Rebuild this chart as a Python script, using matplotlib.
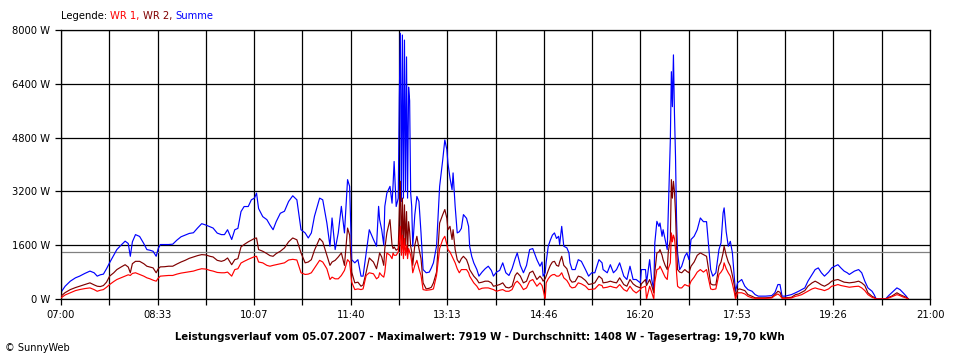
import matplotlib
matplotlib.use('Agg')
import matplotlib.pyplot as plt
import numpy as np

# minutes after 07:00
minutes = [0, 4, 9, 14, 18, 23, 28, 32, 35, 38, 41, 44, 47, 51, 54, 58, 62, 65, 67, 69,
           72, 76, 80, 83, 86, 89, 92, 94, 96, 100, 104, 108, 112, 116, 120, 124, 128, 132, 136, 140,
           144, 147, 151, 155, 158, 161, 165, 168, 171, 174, 177, 181, 184, 187, 189, 191, 195, 199, 202, 205,
           208, 212, 216, 220, 224, 228, 232, 236, 239, 242, 245, 250, 253, 257, 260, 262, 265, 268, 271, 274,
           277, 279, 281, 284, 287, 290, 292, 295, 298, 302, 305, 307, 308, 310, 312, 313, 315, 318, 320, 321,
           322, 324, 326, 327, 328, 329, 330, 331, 332, 333, 334, 335, 336, 337, 338, 339, 340, 342, 344, 346,
           348, 350, 353, 356, 358, 360, 363, 366, 369, 371, 373, 374, 376, 378, 379, 381, 383, 385, 387, 389,
           392, 394, 395, 397, 399, 402, 404, 407, 410, 413, 416, 418, 421, 424, 427, 430, 433, 436, 439, 441,
           444, 447, 450, 453, 456, 460, 463, 465, 466, 468, 469, 471, 473, 475, 477, 479, 481, 482, 484, 486,
           489, 491, 492, 494, 497, 500, 503, 507, 510, 513, 516, 520, 523, 524, 528, 531, 534, 537, 540, 544,
           547, 550, 553, 556, 560, 561, 565, 566, 569, 571, 573, 574, 576, 578, 579, 581, 582, 584, 586, 587,
           589, 590, 591, 592, 593, 594, 595, 596, 598, 600, 603, 605, 607, 609, 612, 615, 618, 621, 624, 626,
           628, 630, 633, 636, 638, 640, 641, 643, 645, 647, 649, 651, 652, 654, 656, 658, 661, 664, 668, 671,
           674, 681, 687, 690, 693, 695, 697, 700, 706, 710, 713, 716, 719, 722, 726, 729, 732, 735, 738, 742,
           745, 748, 751, 754, 757, 760, 762, 767, 771, 774, 777, 780, 784, 786, 788, 797, 800, 803, 808, 811,
           814, 817, 819]

summe = [200, 380, 530, 630, 680, 760, 830, 780, 680, 720, 740, 900, 1080, 1300, 1470, 1600, 1720, 1650, 1270, 1700,
         1915, 1860, 1650, 1470, 1450, 1420, 1270, 1500, 1620, 1620, 1620, 1630, 1750, 1850, 1900, 1950, 1970, 2110, 2240, 2200,
         2150, 2110, 1960, 1915, 1915, 2060, 1770, 2060, 2100, 2600, 2750, 2750, 2950, 3000, 3150, 2690, 2450, 2360, 2200, 2060,
         2300, 2550, 2610, 2900, 3070, 2950, 2060, 1965, 1815, 1965, 2460, 3000, 2950, 2260, 1570, 2410, 1470, 1965, 2755, 1965,
         3550, 3350, 1170, 1075, 1170, 680, 680, 1370, 2060, 1770, 1570, 2755, 2360, 2060, 1600, 2755, 3150, 3350, 2850, 3400,
         4090, 2750, 3000, 6000, 7900, 2900, 7850, 3000, 7700, 3200, 7200, 3000, 6300, 5900, 3150, 2755, 1570, 2500, 3050, 2900,
         1965, 875, 780, 800, 925, 1075, 1570, 3350, 4140, 4730, 4440, 4040, 3600, 3250, 3750, 2755, 1965, 2000, 2100, 2510,
         2400, 2160, 1570, 1270, 1075, 875, 680, 800, 900, 975, 850, 680, 800, 850, 1075, 780, 700, 900, 1200, 1370,
         1000, 780, 1000, 1470, 1500, 1170, 975, 1100, 680, 780, 1100, 1570, 1750, 1900, 1965, 1800, 1865, 1620, 2160, 1570,
         1520, 1370, 1075, 875, 875, 1170, 1120, 875, 680, 780, 780, 1170, 1075, 875, 780, 1020, 780, 875, 1075, 680,
         580, 975, 580, 580, 480, 875, 875, 480, 1170, 580, 280, 1670, 2310, 2160, 2260, 1865, 2060, 1770, 1470, 2560,
         4730, 6760, 5720, 7260, 5500, 4240, 2360, 1370, 875, 975, 1270, 1370, 1170, 1770, 1865, 2060, 2410, 2300, 2300, 1600,
         875, 680, 780, 1470, 1670, 2560, 2710, 2000, 1570, 1715, 1370, 580, 230, 480, 530, 580, 380, 280, 230, 130,
         85, 85, 100, 185, 430, 430, 85, 85, 130, 185, 230, 280, 330, 530, 730, 875, 925, 780, 680, 800,
         925, 975, 1020, 920, 830, 780, 730, 830, 875, 780, 530, 330, 230, 130, 0, 0, 100, 185, 330, 280,
         185, 85, 0]

wr2 = [85, 190, 280, 340, 380, 430, 480, 420, 380, 370, 400, 500, 680, 780, 875, 950, 1020, 950, 780, 1050,
       1120, 1120, 1050, 975, 950, 925, 780, 900, 955, 960, 975, 975, 1040, 1100, 1150, 1210, 1250, 1290, 1320, 1310,
       1270, 1250, 1150, 1120, 1150, 1220, 1020, 1170, 1200, 1550, 1620, 1700, 1750, 1800, 1815, 1470, 1420, 1350, 1290, 1270,
       1350, 1420, 1520, 1700, 1815, 1760, 1370, 1075, 1100, 1170, 1450, 1800, 1700, 1300, 1000, 1100, 1150, 1250, 1370, 1000,
       2110, 1900, 800, 480, 500, 380, 420, 800, 1220, 1100, 900, 1200, 1370, 1250, 1000, 1500, 1965, 2360, 1600, 1500,
       1550, 1450, 1500, 2600, 3500, 1400, 3000, 1500, 2800, 1600, 2600, 1400, 2300, 2000, 1570, 1400, 1000, 1600, 1865, 1500,
       1200, 480, 300, 320, 350, 480, 800, 2260, 2510, 2660, 2400, 2060, 2160, 1770, 2060, 1470, 1170, 1075, 1200, 1270,
       1170, 1000, 875, 780, 680, 580, 480, 500, 530, 530, 480, 380, 400, 430, 480, 350, 330, 380, 700, 780,
       680, 480, 530, 780, 830, 580, 680, 600, 530, 600, 680, 850, 1000, 1100, 1120, 1000, 975, 1100, 1270, 1000,
       900, 700, 580, 500, 520, 680, 650, 550, 430, 450, 480, 680, 600, 480, 500, 530, 500, 480, 630, 430,
       380, 580, 450, 380, 330, 450, 580, 400, 580, 400, 185, 800, 1370, 1400, 1470, 1300, 1170, 1000, 875, 1400,
       1770, 3550, 3000, 3500, 3200, 2560, 1570, 875, 800, 780, 875, 820, 780, 975, 1100, 1300, 1370, 1320, 1270, 875,
       450, 420, 420, 975, 1100, 1370, 1570, 1300, 1100, 975, 700, 380, 85, 280, 300, 280, 250, 130, 80, 35,
       35, 35, 50, 130, 230, 200, 35, 35, 50, 130, 150, 200, 250, 380, 480, 530, 480, 420, 380, 450,
       530, 560, 580, 540, 500, 490, 480, 500, 530, 480, 400, 185, 80, 50, 0, 0, 50, 85, 185, 130,
       90, 50, 0]

wr1 = [35, 120, 185, 250, 280, 310, 330, 280, 230, 260, 280, 350, 430, 520, 580, 630, 680, 720, 700, 760,
       780, 730, 680, 630, 600, 560, 530, 620, 680, 690, 700, 700, 740, 770, 790, 810, 830, 870, 900, 890,
       850, 830, 790, 780, 780, 800, 680, 875, 900, 1070, 1120, 1180, 1220, 1260, 1270, 1100, 1075, 1000, 975, 1000,
       1020, 1050, 1075, 1160, 1180, 1160, 780, 730, 740, 780, 920, 1150, 1100, 900, 580, 650, 600, 600, 700, 850,
       1170, 1100, 500, 280, 300, 280, 300, 700, 780, 750, 600, 650, 780, 700, 650, 800, 1370, 1300, 1200, 1370,
       1300, 1300, 1400, 1700, 2160, 1300, 1900, 1200, 1800, 1300, 1600, 1200, 1500, 1400, 1300, 1100, 780, 1000, 1150, 900,
       700, 280, 260, 270, 280, 300, 700, 1500, 1770, 1865, 1620, 1470, 1400, 1270, 1200, 1075, 900, 780, 875, 875,
       875, 780, 680, 580, 480, 380, 280, 320, 330, 330, 300, 280, 230, 260, 280, 230, 230, 280, 480, 530,
       430, 280, 330, 530, 580, 380, 480, 400, 280, 0, 480, 600, 680, 720, 730, 680, 680, 700, 780, 630,
       550, 450, 380, 330, 350, 480, 450, 380, 280, 290, 300, 430, 400, 330, 350, 380, 350, 330, 430, 280,
       230, 380, 250, 180, 280, 330, 380, 0, 380, 200, 0, 500, 875, 900, 975, 850, 780, 650, 580, 900,
       1075, 1965, 1700, 1900, 1800, 1470, 780, 380, 330, 330, 430, 400, 380, 530, 650, 800, 875, 800, 875, 580,
       300, 280, 300, 730, 800, 900, 1075, 900, 780, 680, 450, 180, 0, 185, 185, 185, 150, 80, 35, 20,
       20, 20, 30, 100, 150, 100, 20, 20, 30, 80, 100, 130, 180, 230, 300, 330, 300, 280, 250, 300,
       380, 400, 430, 400, 380, 360, 350, 370, 380, 330, 250, 130, 50, 30, 0, 0, 30, 65, 130, 100,
       60, 30, 0]

grid_min = np.arange(0, 841, 840 / 18)
x_labels = ['07:00', '08:33', '10:07', '11:40', '13:13', '14:46', '16:20', '17:53', '19:26', '21:00']
y_ticks = [0, 1600, 3200, 4800, 6400, 8000]
y_labels = ['0 W', '1600 W', '3200 W', '4800 W', '6400 W', '8000 W']
average = 1408
title = ('Leistungsverlauf vom 05.07.2007 - Maximalwert: 7919 W - '
         'Durchschnitt: 1408 W - Tagesertrag: 19,70 kWh')

FONT = 'DejaVu Sans'

fig = plt.figure(figsize=(9.6, 3.6), dpi=100)
fig.patch.set_facecolor('white')
ax = fig.add_axes([61 / 960, 61 / 360, 869 / 960, 269 / 360])

#grid lines
for g in grid_min:
    ax.axvline(g, color='black', lw=0.9, zorder=1)
for v in y_ticks:
    ax.axhline(v, color='black', lw=0.9, zorder=1)
ax.axhline(average, color='#808080', lw=0.9, zorder=1.5)

#series
ax.plot(minutes, summe, color='#0000ff', lw=0.85, zorder=2)
ax.plot(minutes, wr2, color='#800000', lw=0.85, zorder=3)
ax.plot(minutes, wr1, color='#ff0000', lw=0.85, zorder=4)

ax.set_xlim(0, 840)
ax.set_ylim(0, 8000)

ax.set_xticks(grid_min)
ax.set_xticklabels([x_labels[i // 2] if i % 2 == 0 else '' for i in range(len(grid_min))],
                   fontname=FONT, fontsize=7.2)
ax.set_yticks(y_ticks)
ax.set_yticklabels(y_labels, fontname=FONT, fontsize=7.2)
ax.tick_params(axis='both', direction='out', length=4.5, width=0.9, color='black', pad=3.5)

for s in ax.spines.values():
    s.set_color('black')
    s.set_linewidth(0.9)

#legend line on top, coloured pieces
fig.canvas.draw()
renderer = fig.canvas.get_renderer()
x_px = 61
for part, col in [('Legende: ', 'black'), ('WR 1, ', '#ff0000'), ('WR 2, ', '#800000'), ('Summe', '#0000ff')]:
    t = fig.text(x_px / 960, 1 - 16 / 360, part, color=col, fontname=FONT, fontsize=7.2,
                 va='center', ha='left')
    x_px += t.get_window_extent(renderer).width

fig.text(480 / 960, 1 - 337 / 360, title, ha='center', va='center', fontname=FONT,
         fontsize=7.3, fontweight='bold')
fig.text(5 / 960, 1 - 348 / 360, '\u00a9 SunnyWeb', ha='left', va='center', fontname=FONT, fontsize=7)

fig.savefig('out.png', dpi=100)
plt.close('all')
